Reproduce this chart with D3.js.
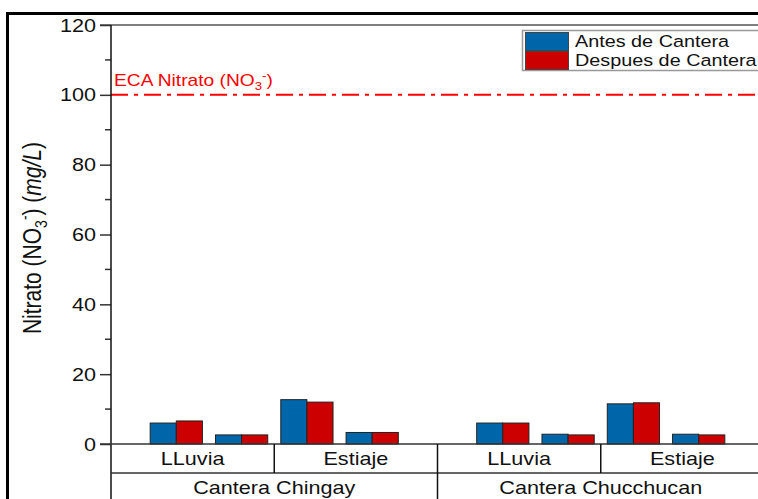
<!DOCTYPE html>
<html><head><meta charset="utf-8">
<script src="https://cdn.jsdelivr.net/npm/d3@7/dist/d3.min.js"></script>
<style>body{margin:0;background:#fff;}svg{display:block;font-family:"Liberation Sans",Arial,sans-serif;}</style>
</head><body>
<script>
const sites = ["Cantera Chingay", "Cantera Chucchucan"];
const seasons = ["LLuvia", "Estiaje"];
const seriesNames = ["Antes de Cantera", "Despues de Cantera"];
const antes   = [6.0, 2.6, 12.7, 3.3, 6.0, 2.8, 11.5, 2.8];
const despues = [6.6, 2.6, 12.0, 3.3, 6.0, 2.6, 11.8, 2.6];
const yTicks = [0, 20, 40, 60, 80, 100, 120];
const ecaValue = 100;
const colors = ["#0066aa", "#cc0000"];

const W = 758, H = 499;
const SX = 1.2; // horizontal glyph stretch seen in the reference
const svg = d3.select("body").append("svg").attr("width", W).attr("height", H);

const x = d3.scaleLinear().domain([0, 10]).range([111, 764]);
const y = d3.scaleLinear().domain([0, 120]).range([444, 25]);

function label(parent, px, py, size, anchor) {
  return parent.append("text")
    .attr("transform", `translate(${px},${py}) scale(${SX},1)`)
    .attr("text-anchor", anchor || "start")
    .attr("font-size", size).attr("fill", "#111");
}

// outer frame
svg.append("line").attr("x1", 7).attr("x2", W).attr("y1", 13.5).attr("y2", 13.5).attr("stroke", "#000").attr("stroke-width", 3);
svg.append("line").attr("x1", 7.5).attr("x2", 7.5).attr("y1", 12).attr("y2", H).attr("stroke", "#000").attr("stroke-width", 3);

// top axis line
svg.append("line").attr("x1", 100).attr("x2", W).attr("y1", y(120)).attr("y2", y(120)).attr("stroke", "#555").attr("stroke-width", 1.5);

// bars
const rows = antes.map((a, i) => {
  const site = Math.floor(i / 4), season = Math.floor((i % 4) / 2), pt = i % 2;
  return { pos: site * 5 + season * 2 + pt + 1, vals: [a, despues[i]] };
});
const g = svg.append("g");
rows.forEach(r => {
  r.vals.forEach((v, s) => {
    g.append("rect")
      .attr("x", x(r.pos - 0.4 + s * 0.4))
      .attr("width", x(0.4) - x(0))
      .attr("y", y(v))
      .attr("height", y(0) - y(v))
      .attr("fill", colors[s])
      .attr("stroke", "#222").attr("stroke-width", 1);
  });
});

// ECA line
svg.append("line").attr("x1", x(0)).attr("x2", W).attr("y1", y(ecaValue)).attr("y2", y(ecaValue))
  .attr("stroke", "#ff0000").attr("stroke-width", 2).attr("stroke-dasharray", "17,6,4,6");
const eca = label(svg, 114, y(ecaValue) - 9, 16).attr("fill", "#ff0000");
eca.append("tspan").text("ECA Nitrato (NO");
eca.append("tspan").attr("font-size", 11).attr("dy", 4).text("3");
eca.append("tspan").attr("font-size", 11).attr("dy", -11).text("-");
eca.append("tspan").attr("dy", 7).text(")");

// y axis ticks
const yAxis = d3.axisLeft(y).tickValues(yTicks).tickSize(11).tickFormat("");
const ya = svg.append("g").attr("transform", `translate(${x(0)},0)`).call(yAxis);
ya.select(".domain").remove();
ya.selectAll(".tick line").attr("stroke", "#333").attr("stroke-width", 1.5);
yTicks.forEach(t => {
  label(svg, 96, y(t) + 6.5, 18, "end").text(d3.format("d")(t));
});
const minor = d3.range(10, 120, 20);
svg.append("g").selectAll("line").data(minor).join("line")
  .attr("x1", x(0) - 6).attr("x2", x(0)).attr("y1", d => y(d)).attr("y2", d => y(d))
  .attr("stroke", "#333").attr("stroke-width", 1.5);
svg.append("line").attr("x1", x(0)).attr("x2", x(0)).attr("y1", y(120)).attr("y2", H).attr("stroke", "#111").attr("stroke-width", 1.5);

// baseline and category axis lines
svg.append("line").attr("x1", 100).attr("x2", W).attr("y1", y(0)).attr("y2", y(0)).attr("stroke", "#333").attr("stroke-width", 1.5);
svg.append("line").attr("x1", x(0)).attr("x2", W).attr("y1", 473).attr("y2", 473).attr("stroke", "#333").attr("stroke-width", 1.5);

// season dividers & labels
sites.forEach((site, si) => {
  seasons.forEach((sea, ji) => {
    const start = si * 5 + ji * 2.5, end = start + 2.5;
    label(svg, x((start + end) / 2), 465, 18, "middle").text(sea);
    if (ji === 0) {
      svg.append("line").attr("x1", x(end)).attr("x2", x(end)).attr("y1", y(0)).attr("y2", 473).attr("stroke", "#111").attr("stroke-width", 1.5);
    }
  });
  label(svg, x(si * 5 + 2.5), 494, 18, "middle").text(site);
  if (si === 0) {
    svg.append("line").attr("x1", x(5)).attr("x2", x(5)).attr("y1", y(0)).attr("y2", H).attr("stroke", "#111").attr("stroke-width", 1.5);
  }
});

// y label
const yl = svg.append("text").attr("transform", `translate(41,238) rotate(-90) scale(1,${SX})`).attr("text-anchor", "middle")
  .attr("font-size", 21).attr("fill", "#111");
yl.append("tspan").text("Nitrato (NO");
yl.append("tspan").attr("font-size", 14).attr("dy", 5).text("3");
yl.append("tspan").attr("font-size", 14).attr("dy", -14).text("-");
yl.append("tspan").attr("dy", 9).text(") (");
yl.append("tspan").attr("font-style", "italic").text("mg/L");
yl.append("tspan").text(")");

// legend
const lg = svg.append("g");
lg.append("rect").attr("x", 522.5).attr("y", 30.5).attr("width", 240).attr("height", 40).attr("fill", "#fff").attr("stroke", "#999").attr("stroke-width", 1.5);
seriesNames.forEach((n, i) => {
  lg.append("rect").attr("x", 525.5).attr("y", 32.5 + i * 19).attr("width", 43).attr("height", 18)
    .attr("fill", colors[i]).attr("stroke", "#444").attr("stroke-width", 1);
  label(lg, 575, 46.5 + i * 19, 16.5).text(n);
});
</script>
</body></html>
